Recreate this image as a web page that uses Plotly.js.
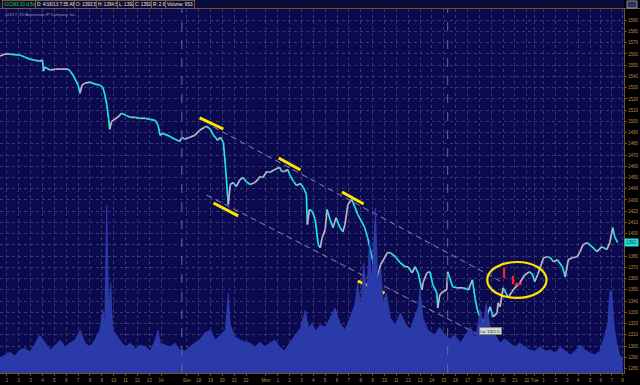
<!DOCTYPE html>
<html><head><meta charset="utf-8">
<script src="https://cdn.plot.ly/plotly-3.0.1.min.js"></script>
<style>html,body{margin:0;padding:0;background:#000;}#chart{width:640px;height:385px;}</style>
</head><body><div id="chart"></div>
<script>
// ---- data: /GCM3 5-minute bars (x = bar number from chart start) ----
const priceBars = [0,5,10,20,25,30,35,40,43,44,45,51,56,61,69,71,74,77,79,81,83,86,91,96,101,104,106,108,110,111,113,116,119,123,127,132,137,142,147,152,157,160,162,164,167,172,177,182,184,187,192,197,202,207,209,213,216,218,220,223,226,228,231,233,236,239,243,246,249,253,258,261,263,266,270,273,278,283,285,288,291,293,297,300,304,307,310,311,313,316,319,322,324,326,329,331,334,337,340,344,347,349,352,356,359,362,366,369,372,374,377,380,382,385,388,392,395,400,405,410,413,417,420,423,427,428,432,435,438,442,443,445,448,452,453,455,458,463,469,474,478,479,481,483,486,489,493,496,499,503,504,506,509,513,514,518,521,526,531,536,539,541,544,550,554,557,560,564,569,572,575,579,584,587,590,594,599,604,609,614,617,620,622,625];
const priceValues = [1558.1,1559.9,1559.9,1559.0,1557.2,1555.4,1554.5,1553.6,1554.5,1544.7,1548.3,1545.6,1546.5,1546.5,1546.5,1544.7,1541.1,1535.8,1532.2,1525.0,1532.2,1534.0,1534.9,1533.1,1532.2,1530.4,1524.1,1515.2,1501.8,1492.9,1500.0,1501.8,1503.6,1507.2,1505.4,1503.6,1503.6,1502.7,1502.7,1501.8,1500.9,1496.5,1487.5,1489.3,1488.4,1486.6,1484.0,1482.2,1485.8,1484.0,1485.8,1487.5,1492.0,1494.7,1495.6,1492.9,1487.5,1485.8,1483.1,1485.8,1481.3,1461.6,1425.9,1443.8,1445.6,1442.0,1448.3,1450.0,1446.5,1443.8,1445.6,1448.3,1450.9,1450.0,1455.4,1454.5,1457.2,1459.0,1455.4,1455.4,1457.2,1452.7,1446.5,1442.9,1444.7,1441.1,1434.9,1408.1,1421.5,1419.7,1412.5,1390.2,1387.5,1396.5,1403.6,1421.5,1412.5,1405.4,1414.3,1405.4,1401.8,1408.1,1425.9,1430.4,1424.1,1417.0,1410.8,1405.4,1396.5,1388.4,1376.8,1363.4,1360.8,1372.4,1376.8,1383.1,1383.1,1379.5,1374.1,1370.6,1370.6,1365.2,1370.6,1365.2,1350.0,1356.3,1365.2,1366.1,1354.5,1347.4,1334.0,1345.6,1348.3,1350.0,1366.1,1360.8,1352.7,1351.8,1351.8,1350.0,1359.0,1352.7,1341.1,1332.2,1325.0,1321.5,1327.7,1334.9,1325.9,1329.5,1338.4,1334.9,1351.8,1345.6,1342.9,1348.3,1351.8,1356.3,1363.4,1366.1,1363.4,1357.2,1363.4,1378.6,1379.5,1378.6,1375.0,1376.8,1370.6,1361.6,1376.8,1378.6,1379.5,1384.0,1390.2,1392.0,1388.4,1384.0,1388.4,1385.8,1392.0,1405.4,1397.4,1392.0];

const volumeBars = [0,5,10,15,20,25,30,35,40,46,51,56,61,66,71,76,81,86,91,96,101,104,106,108,110,112,114,118,121,127,132,137,142,147,152,157,160,162,167,172,177,182,187,192,197,202,207,213,218,223,228,231,233,238,243,248,253,258,263,268,273,278,283,288,293,299,304,309,312,316,319,324,329,334,339,344,349,354,359,362,365,368,371,374,376,380,382,385,388,391,395,400,405,410,415,420,423,425,428,433,440,445,450,455,460,466,471,476,481,486,489,492,496,501,506,511,516,521,526,531,536,541,546,552,557,562,567,572,577,582,587,592,597,602,607,612,615,617,619,621,624,627,630];
const volumeValues = [1500,1800,2100,1700,2300,2500,2100,2800,3800,3000,2300,2800,3300,2600,3000,3300,4300,3000,2600,3300,4300,6300,5000,16800,6000,9000,4300,3800,3300,2600,3000,2400,2800,2600,2200,3300,4300,3000,2800,2600,3000,2300,2200,2600,3000,3300,4000,4300,3300,3800,4300,8000,4800,3600,3300,3100,3000,2600,3100,2600,3000,3300,2600,2200,3000,3800,4500,6300,4500,5000,4200,4800,4600,5500,6500,5000,4300,5500,6800,9000,6500,11000,8000,13300,9000,16500,9500,10500,7000,8000,5500,4800,6000,5000,4300,5800,6500,8500,5500,4300,3800,4600,3800,3400,3800,3000,3800,4600,3400,6300,5000,7000,4600,3800,3000,3400,3000,2600,3000,2600,2300,2200,2600,2200,2300,2000,2600,2200,1800,2200,2800,2300,2000,1800,2200,3800,5000,8100,8300,5000,3000,1800,1500];

const tickBars = [7,19,31,43,55,67,79,91,103,115,127,139,151,163,189,201,213,225,237,249,269,281,293,305,317,329,341,353,365,377,389,401,413,425,437,449,461,473,485,497,509,521,533,541,550,562,574,585,597,608,619,630];
const tickLabels = ['1','2','3','4','5','6','7','8','9','10','11','12','13','14','Sun','18','19','20','21','22','Mon','1','2','3','4','5','6','7','8','9','10','11','12','13','14','15','16','17','18','19','20','21','22','Tue','1','2','3','4','5','6','7','8'];
// price scale labels (1390 sits under the last-price box)
const priceTicks = [1280,1290,1300,1310,1320,1330,1340,1350,1360,1370,1380,1400,1410,1420,1430,1440,1450,1460,1470,1480,1490,1500,1510,1520,1530,1540,1550,1560,1570,1580,1590];

const sessionBreaks = [184, 453];
// hand-drawn marks on the chart: [bar0, price0, bar1, price1]
const yellowMarks = [[202,1503.0,226,1493.2],[282,1467.4,304,1456.7],[346,1437.1,368,1426.4],[216,1427.3,241,1415.8],[362,1357.9,389,1347.0]];
const channelLines = [[216,1495.0,506,1357.9],[209,1434.4,552,1279.6]];
const circleMark = [493,1374.8,553,1342.8];
const redMarks = [[510,1369.5,510,1360.6],[519,1362.4,519,1355.2],[521,1355.2,528,1355.2]];
const lowLabel = {bar: 496, price: 1313.5, text: 'Lo: 1321.5'};
const lastPrice = 1392;
const headerItems = ['/GCM3 20 d 5m','D: 4/16/13 7:35 AM','O: 1393.5','H: 1394.5','L: 1392','C: 1392','R: 2.6','Volume: 953'];
const headerPos = [2,35,74,96,117,133,151,165];

// ---- build traces ----
const upX=[],upY=[],dnX=[],dnY=[];
for (let i=1;i<priceBars.length;i++){
  const up = priceValues[i] >= priceValues[i-1];
  (up?upX:dnX).push(priceBars[i-1],priceBars[i],null);
  (up?upY:dnY).push(priceValues[i-1],priceValues[i],null);
}
const traces = [
  {x: volumeBars, y: volumeValues, type:'scatter', mode:'lines', fill:'tozeroy', yaxis:'y2',
   line:{color:'#3446b8', width:0.6}, fillcolor:'#2a3aa8', hoverinfo:'skip'},
  {x: dnX, y: dnY, type:'scatter', mode:'lines', line:{color:'#22e4e4', width:1.7}, hoverinfo:'skip'},
  {x: upX, y: upY, type:'scatter', mode:'lines', line:{color:'#b8b8c4', width:1.7}, hoverinfo:'skip'}
];
channelLines.forEach(c=>traces.push({x:[c[0],c[2]], y:[c[1],c[3]], type:'scatter', mode:'lines',
  line:{color:'#8a8aa8', width:1, dash:'6px,4px'}, hoverinfo:'skip'}));
yellowMarks.forEach(c=>traces.push({x:[c[0],c[2]], y:[c[1],c[3]], type:'scatter', mode:'lines',
  line:{color:'#ffe400', width:3}, hoverinfo:'skip'}));
redMarks.forEach(c=>traces.push({x:[c[0],c[2]], y:[c[1],c[3]], type:'scatter', mode:'lines',
  line:{color:'#ff2020', width:2.2}, hoverinfo:'skip'}));

const shapes = [];
sessionBreaks.forEach(b=>shapes.push({type:'line', xref:'x', yref:'paper', x0:b, x1:b, y0:0, y1:1,
  line:{color:'#6c6c90', width:1, dash:'dash'}}));
shapes.push({type:'circle', xref:'x', yref:'y', x0:circleMark[0], y0:circleMark[1], x1:circleMark[2], y1:circleMark[3],
  line:{color:'#ffe400', width:2.2}});
const topH = 9/364;
shapes.push({type:'rect', xref:'paper', yref:'paper', x0:0, x1:1, y0:1, y1:1+topH, fillcolor:'#0c0c3a', line:{width:0}});
shapes.push({type:'line', xref:'paper', yref:'paper', x0:0, x1:1+16/624, y0:1+0.5/364, y1:1+0.5/364, line:{color:'#7a5020', width:1}});
shapes.push({type:'rect', xref:'paper', yref:'paper', x0:1+3/624, x1:1+13/624, y0:1+1/364, y1:1+8/364, fillcolor:'#30305a', line:{color:'#9090b0', width:1}});

const annotations = headerItems.map((t,i)=>({xref:'paper', yref:'paper', x: headerPos[i]/624, y:1+4.5/364,
  xanchor:'left', yanchor:'middle', text:t, showarrow:false,
  font:{family:'Liberation Sans, Arial', size:4.6, color: i===0?'#22d022':'#e8e8e8'},
  bgcolor:'#0c0c3a', bordercolor:'#7a5a30', borderwidth:1, borderpad:1}));
annotations.push({xref:'paper', yref:'paper', x:3/624, y:1-5.5/364, xanchor:'left', yanchor:'middle',
  text:'2013 © TD Ameritrade IP Company, Inc.', showarrow:false,
  font:{family:'Liberation Sans, Arial', size:4, color:'#9a9ab0'}});
annotations.push({xref:'paper', yref:'y', x:1, y:lastPrice, xanchor:'left', yanchor:'middle',
  text:String(lastPrice), showarrow:false, bgcolor:'#22e0e0', borderpad:1,
  font:{family:'Liberation Sans, Arial', size:4.6, color:'#003a3a'}});
annotations.push({xref:'x', yref:'y', x:lowLabel.bar, y:lowLabel.price, xanchor:'center', yanchor:'middle',
  text:lowLabel.text, showarrow:false, bgcolor:'#d8d8d8', bordercolor:'#808080', borderwidth:1, borderpad:0.5,
  font:{family:'Liberation Sans, Arial', size:4, color:'#202020'}});

const gridStyle = {showgrid:true, gridcolor:'#3a3a68', griddash:'dot', gridwidth:1};
const layout = {
  width:640, height:385,
  margin:{l:0, r:16, t:9, b:12, pad:0},
  paper_bgcolor:'#000000', plot_bgcolor:'#0b0a50',
  showlegend:false,
  xaxis:Object.assign({range:[0,631.4], tickmode:'array', tickvals:tickBars, ticktext:tickLabels,
    tickfont:{family:'Liberation Sans, Arial', size:4.6, color:'#b8884c'}, tickangle:0,
    ticks:'outside', ticklen:2, tickcolor:'#7a5020',
    showline:true, linecolor:'#7a5020', linewidth:1, zeroline:false, fixedrange:true}, gridStyle),
  yaxis:Object.assign({range:[1276,1600], side:'right', tickmode:'array', tickvals:priceTicks,
    tickfont:{family:'Liberation Sans, Arial', size:4.6, color:'#b8884c'},
    ticks:'outside', ticklen:2, tickcolor:'#7a5020',
    minor:{dtick:10, tick0:0, showgrid:true, gridcolor:'#3a3a68', griddash:'dot', gridwidth:1, ticks:''},
    showline:true, linecolor:'#7a5020', linewidth:1, zeroline:false, fixedrange:true}, gridStyle),
  yaxis2:{overlaying:'y', range:[0,36400], visible:false, showgrid:false, zeroline:false, fixedrange:true},
  shapes: shapes,
  annotations: annotations
};
Plotly.newPlot('chart', traces, layout, {staticPlot:true, displayModeBar:false});
</script>
</body></html>
